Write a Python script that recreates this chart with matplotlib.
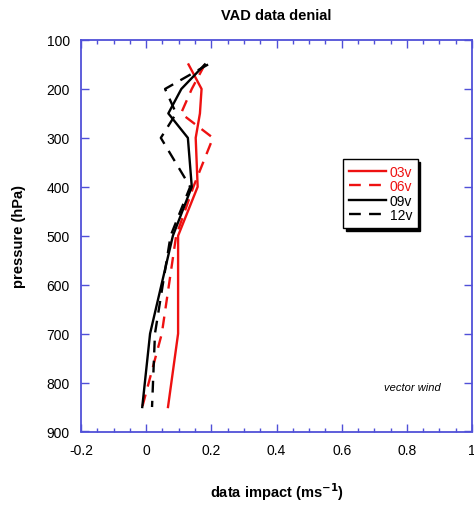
import matplotlib
matplotlib.use("Agg")
import matplotlib.pyplot as plt
from matplotlib.ticker import MultipleLocator, FixedLocator, FixedFormatter

plt.rcParams['font.family'] = ['Liberation Sans', 'DejaVu Sans']

pressure = [150, 200, 250, 300, 400, 500, 700, 850]
v03 = [0.13, 0.17, 0.165, 0.152, 0.158, 0.098, 0.098, 0.067]
v06 = [0.18, 0.14, 0.107, 0.205, 0.145, 0.092, 0.048, -0.012]
v09 = [0.18, 0.108, 0.068, 0.128, 0.14, 0.082, 0.012, -0.012]
v12 = [0.19, 0.058, 0.092, 0.045, 0.135, 0.075, 0.027, 0.018]

series_names = ['03v', '06v', '09v', '12v']
xticks = [-0.2, 0, 0.2, 0.4, 0.6, 0.8, 1.0]
xticklabels = ['-0.2', '0', '0.2', '0.4', '0.6', '0.8', '1']
yticks = [100, 200, 300, 400, 500, 600, 700, 800, 900]

spine_col = '#5050d8'

fig = plt.figure(figsize=(4.74, 5.06), dpi=100)
ax = fig.add_axes([81/474, 1-432.5/506, (472-81)/474, (432.5-41)/506])

dash = (5, 3.5)
ax.plot(v03, pressure, color='#ee1111', lw=1.7, label=series_names[0])
ax.plot(v06, pressure, color='#ee1111', lw=1.7, dashes=dash, label=series_names[1])
ax.plot(v09, pressure, color='black', lw=1.7, label=series_names[2])
ax.plot(v12, pressure, color='black', lw=1.7, dashes=dash, label=series_names[3])

ax.set_xlim(-0.2, 1.0)
ax.set_ylim(900, 100)
ax.xaxis.set_major_locator(FixedLocator(xticks))
ax.xaxis.set_major_formatter(FixedFormatter(xticklabels))
ax.xaxis.set_minor_locator(MultipleLocator(0.05))
ax.yaxis.set_major_locator(FixedLocator(yticks))

for s in ax.spines.values():
    s.set_color(spine_col)
    s.set_linewidth(1.3)
ax.tick_params(which='both', direction='in', top=True, right=True, color=spine_col, width=1.0)
ax.tick_params(which='major', length=6, labelsize=10, pad=8)
ax.tick_params(which='minor', length=3)
ax.tick_params(axis='y', which='minor', left=False, right=False)

ax.set_title('VAD data denial', fontsize=10.5, fontweight='bold', pad=15)
ax.set_ylabel('pressure (hPa)', fontsize=10.5, fontweight='bold', labelpad=15)
ax.set_xlabel('data impact (ms$^{\\mathbf{-1}}$)', fontsize=10.5, fontweight='bold', labelpad=17)

leg = ax.legend(loc='upper left', bbox_to_anchor=((343-81)/391, 1-(160-41)/391.5),
                fontsize=10, frameon=True, fancybox=False,
                shadow={'color': 'black', 'alpha': 1.0},
                handlelength=2.7, handletextpad=0.25, borderpad=0.4, labelspacing=0.04,
                borderaxespad=0)
leg.get_frame().set_edgecolor('black')
leg.get_frame().set_linewidth(1.0)
for t, c in zip(leg.get_texts(), ['#ee1111', '#ee1111', 'black', 'black']):
    t.set_color(c)

ax.text(0.92, 0.113, 'vector wind', transform=ax.transAxes, fontsize=8,
        style='italic', ha='right', va='center')

fig.savefig('out.png', dpi=100)
